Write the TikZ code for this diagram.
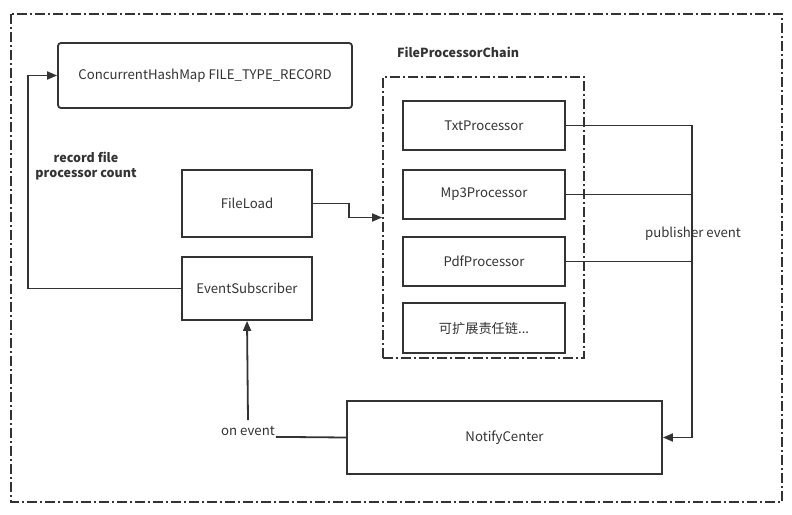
\documentclass[tikz,border=0pt]{standalone}
\usepackage{fontspec}
\setmainfont{Noto Sans CJK SC}
\usetikzlibrary{arrows.meta}

\definecolor{ink}{HTML}{333333}

\tikzset{
  box/.style={draw=ink,line width=1.8pt,text=ink,font=\fontsize{13.2}{16}\selectfont},
  frame/.style={draw=ink,line width=1.8pt,dash pattern=on 10pt off 3pt on 2pt off 3pt},
  wire/.style={draw=ink,line width=1.8pt},
  arr/.style={wire,-{Triangle[length=10pt,width=8pt]}},
  lbl/.style={text=ink,font=\fontsize{13.2}{16}\selectfont}
}

\begin{document}
\begin{tikzpicture}[x=1pt,y=-1pt]
        \useasboundingbox (0,0) rectangle (792,514);
        % outer frame
        \draw[frame] (11,14) rectangle (782,502);
        % chain frame
        \node[frame,minimum width=201pt,minimum height=281pt] (chain) at (483.5,217.5) {};
        \node[lbl,font=\fontsize{12.5}{15}\selectfont\bfseries] (chainname) at (458,52) {FileProcessorChain};

        \node[box,rounded corners=3pt,minimum width=294pt,minimum height=65pt] (map) at (205,75.5) {ConcurrentHashMap FILE\_TYPE\_RECORD};
        \node[box,minimum width=130pt,minimum height=67pt] (fileload) at (247,203.5) {FileLoad};
        \node[box,minimum width=130pt,minimum height=63pt] (subscriber) at (247,288.5) {EventSubscriber};
        \node[box,minimum width=162pt,minimum height=49pt] (txt) at (484,125.5) {TxtProcessor};
        \node[box,minimum width=162pt,minimum height=49pt] (mp3) at (484,194.5) {Mp3Processor};
        \node[box,minimum width=162pt,minimum height=49pt] (pdf) at (484,261.5) {PdfProcessor};
        \node[box,minimum width=162pt,minimum height=50pt] (more) at (484,328) {可扩展责任链...};
        \node[box,minimum width=315pt,minimum height=73pt] (notify) at (504.5,437.5) {NotifyCenter};

        \coordinate (lft) at (28,0);
        \coordinate (bus) at (692,0);

        % record count
        \draw[arr] (subscriber.west) -- (subscriber.west -| lft) |- (map.west);
        \node[lbl,font=\fontsize{12.5}{15}\selectfont\bfseries,align=center] (recordlbl) at (86,166) {record file\\processor count};

        % load into chain
        \draw[arr] (fileload.east) -- ++(36,0) |- (chain.west);

        % publish
        \draw[arr] (txt.east) -| (bus |- notify.east) -- (notify.east);
        \draw[wire] (mp3.east) -- (mp3.east -| bus);
        \draw[wire] (pdf.east) -- (pdf.east -| bus);
        \node[lbl] (publbl) at (693,234) {publisher event};

        % subscribe
        \node[lbl,inner sep=1pt] (onevt) at (248,431) {on event};
        \draw[wire] (notify.west) -- (onevt.south east);
        \draw[arr] (onevt.north) ++(0,-5) -- (subscriber.south);
    \end{tikzpicture}
\end{document}
